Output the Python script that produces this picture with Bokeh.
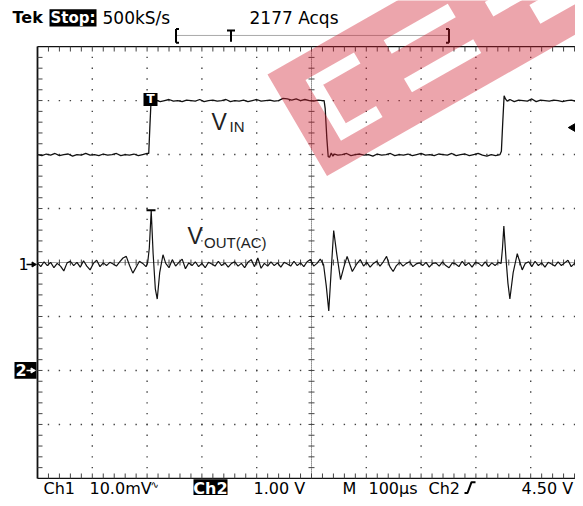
from bokeh.plotting import figure
from bokeh.models import Range1d
from bokeh.embed import file_html
from bokeh.resources import INLINE
from bokeh.core.properties import value

# ---------------- data (read from the scope screen) ----------------
# time in microseconds (100 us/div), Ch2 = V_IN in volts (1.00 V/div),
# Ch1 = V_OUT(AC) in millivolts (10.0 mV/div)
vin_t = (list(range(0, 201, 8)) + [203, 205, 207, 209, 212] + list(range(216, 521, 8))
         + [523, 525, 528, 530.5, 533, 536, 539, 542] + list(range(548, 845, 8))
         + [846.5, 849, 851.5, 854, 857] + list(range(862, 999, 8)) + [1000])
vin_v = ([4.00, 3.98, 4.01, 3.99, 4.02, 3.98, 4.00, 4.01, 3.97, 4.00, 3.99, 4.02, 3.99,
          4.00, 3.98, 4.01, 3.99, 4.00, 4.02, 3.98, 4.00, 3.99, 4.01, 3.98, 4.00, 4.02]
         + [4.02, 4.50, 4.95, 5.05, 4.99]
         + [5.01, 4.98, 5.00, 5.02, 4.99, 5.00, 4.98, 5.01, 5.00, 4.99, 5.02, 4.98, 5.00,
            5.01, 4.99, 5.00, 5.02, 4.98, 5.00, 4.99, 5.01, 4.98, 5.00, 5.02, 4.99, 5.00,
            5.01, 4.99, 5.00, 5.04, 5.03, 5.01, 5.03, 5.00, 5.02, 5.00, 4.99, 5.01, 5.00]
         + [5.00, 4.85, 4.30, 3.96, 3.95, 4.03, 3.97, 4.01]
         + [3.99, 4.00, 4.02, 3.98, 4.00, 4.01, 3.99, 4.00, 3.97, 4.01, 3.99, 4.00, 4.02,
            3.98, 4.00, 3.99, 4.01, 3.98, 4.00, 4.02, 3.99, 4.00, 3.98, 4.01, 4.00, 3.99,
            4.02, 3.98, 4.00, 4.01, 3.98, 4.00, 4.02, 3.99, 3.97, 4.00, 3.98, 4.00]
         + [4.06, 4.60, 5.09, 5.03, 4.99]
         + [5.02, 4.98, 5.01, 5.00, 4.99, 5.03, 4.98, 5.01, 5.00, 4.99, 5.01, 5.00, 4.98,
            5.00, 5.01, 4.99, 5.02, 5.00, 5.01])

vout_t = (list(range(0, 199, 6)) + [201, 204, 207.5, 211, 215, 218.5, 223, 229, 234]
          + list(range(240, 511, 6))
          + [516, 522, 527, 531.5, 536, 540.5, 546, 553, 559, 565, 570, 574.5, 582, 589]
          + list(range(595, 842, 6))
          + [846, 848.5, 851, 855, 858.5, 862, 868, 875.5, 884.5, 890, 896.5]
          + list(range(902, 999, 6)) + [1000])
vout_mv = ([0.3, -0.4, 0.5, -0.2, 0.4, -0.6, 0.2, -0.3, -1.2, 0.3, 0.6, -0.2, 0.4, -0.5,
            0.7, -0.3, -1.0, 0.2, 0.8, -0.4, 0.3, -0.2, 0.4, 0.1, -0.3, 0.5, 1.2, 1.5,
            -0.2, -1.6, -0.5, 0.6, 0.2, -0.4]
           + [0.3, 3.0, 10.0, 2.0, -4.5, -6.4, -1.5, 1.8, 0.2]
           + [-0.6, 0.9, -0.3, 0.4, 1.0, -0.8, 0.3, -0.2, 0.5, -0.4, 0.2, -0.6, 0.4, 0.1,
              -0.3, 0.6, -0.2, 0.3, -0.5, 0.2, 0.5, -0.3, 0.2, -0.6, 0.4, 0.9, -0.4, 1.2,
              -0.7, 0.2, -0.3, 0.5, -0.2, 0.3, -0.5, 0.4, 0.1, -0.3, 0.6, -0.2, 0.3, -0.4,
              0.5, 0.9, -0.3, 0.2]
           + [1.0, 0.0, -4.0, -8.6, -1.0, 6.3, 2.0, -2.8, -0.5, 1.5, 0.0, -1.3, 0.0, 0.9]
           + [-0.3, 0.4, -0.5, 0.2, 0.6, -0.3, 0.5, 1.5, -0.4, -1.3, -0.2, 0.4, -0.3, 0.2,
              0.5, -0.4, 0.1, 0.3, -0.2, 0.4, -0.5, 0.2, 0.3, -0.3, 0.5, -0.2, -0.6, 0.3,
              0.1, -0.4, 0.6, -0.2, 0.3, -0.5, 0.4, 0.2, -0.3, 0.5, -0.4, 0.3, -0.2, 0.4]
           + [0.2, 3.0, 7.1, 1.0, -3.5, -6.4, -1.5, 2.0, -1.0, 0.2, 0.5]
           + [-0.4, 0.6, -0.2, 0.3, -0.5, 0.4, 0.1, -0.3, 0.5, -0.2, 0.3, 0.8, -0.4, 0.2,
              0.5, -0.3, 0.4, 0.1])

trigger_level_v = 4.50

header_left = ["Tek", "Stop:", "500kS/s"]
header_acqs = "2177 Acqs"
footer = ["Ch1", "10.0mV", "Ch2", "1.00 V", "M", "100\u00b5s", "Ch2", "4.50 V"]

# ---------------- layout ----------------
W, H = 575, 498
KY = 0.985                       # slight vertical squeeze so the footer fits
X0, Y0, PX = 37.0, 266.0, 54.8   # graticule left edge, centre line (px), px per division
CH1_OFF = (Y0 - 268.0) / PX      # ch1 ground marker (divisions)
CH2_OFF = -2.0                   # ch2 ground marker (divisions)


def tx(xp):   # reference px -> time (us)
    return (xp - X0) / PX * 100.0


def ty(yp):   # reference px -> divisions
    return (Y0 - yp) / PX


YB, YT = ty(H / KY), ty(0)
p = figure(width=W, height=H, output_backend="svg", toolbar_location=None,
           x_range=Range1d(tx(0), tx(W)), y_range=Range1d(YB, YT),
           min_border=0, min_border_left=0, min_border_right=0,
           min_border_top=0, min_border_bottom=0)
p.outline_line_color = None
p.xaxis.visible = False
p.yaxis.visible = False
p.xgrid.visible = False
p.ygrid.visible = False
p.background_fill_color = "white"
p.border_fill_color = "white"

p.extra_y_ranges = {
    "ch1": Range1d((YB - CH1_OFF) * 10.0, (YT - CH1_OFF) * 10.0),
    "ch2": Range1d(YB - CH2_OFF, YT - CH2_OFF),
}

GRID = "#444444"
# dotted graticule lines
dx, dy = [], []
for yl in [-3, -2, -1, 1, 2, 3]:
    for m in range(1, 50):
        dx.append(m * 20.0)
        dy.append(float(yl))
for xl in [100, 200, 300, 400, 600, 700, 800, 900]:
    for j in range(-19, 20):
        dx.append(float(xl))
        dy.append(j * 0.2)
p.scatter(dx, dy, marker="square", size=1.4, fill_color=GRID, line_color=None)

# centre cross (dense dots + ticks)
p.line([0, 1000], [0, 0], line_color=GRID, line_width=1, line_dash="1 1")
p.line([500, 500], [-4, 4], line_color=GRID, line_width=1, line_dash="1 1")
tick_h = 3.0 / PX
tick_w = 3.0 / PX * 100
p.segment(x0=[m * 20.0 for m in range(1, 50)], x1=[m * 20.0 for m in range(1, 50)],
          y0=[-tick_h] * 49, y1=[tick_h] * 49, line_color=GRID, line_width=1)
p.segment(x0=[500 - tick_w] * 39, x1=[500 + tick_w] * 39,
          y0=[j * 0.2 for j in range(-19, 20)], y1=[j * 0.2 for j in range(-19, 20)],
          line_color=GRID, line_width=1)

# frame and edge ticks
p.line([0, 0], [-4, 4], line_color="#111111", line_width=1.8)
p.line([0, 1000], [4, 4], line_color="#111111", line_width=1.2)
p.line([0, 1000], [-4, -4], line_color="#111111", line_width=1.2)
et = 5.0 / PX
p.segment(x0=[m * 20.0 for m in range(1, 50)], x1=[m * 20.0 for m in range(1, 50)],
          y0=[4.0] * 49, y1=[4.0 - et] * 49, line_color=GRID, line_width=1)
p.segment(x0=[m * 20.0 for m in range(1, 50)], x1=[m * 20.0 for m in range(1, 50)],
          y0=[-4.0] * 49, y1=[-4.0 + et] * 49, line_color=GRID, line_width=1)
p.segment(x0=[0.0] * 39, x1=[5.0 / PX * 100] * 39,
          y0=[j * 0.2 for j in range(-19, 20)], y1=[j * 0.2 for j in range(-19, 20)],
          line_color=GRID, line_width=1)

# ---------------- waveforms ----------------
p.line(vin_t, vin_v, y_range_name="ch2", line_color="#111111", line_width=1.3)
p.line(vout_t, vout_mv, y_range_name="ch1", line_color="#111111", line_width=1.2)

LAB = value("Liberation Sans")
SCOPE = value("DejaVu Sans")

# trigger "T" markers
p.quad(left=[tx(143)], right=[tx(157)], top=[ty(94)], bottom=[ty(107)],
       fill_color="black", line_color=None)
p.text([tx(150)], [ty(100.5)], text=["T"], text_font=SCOPE, text_font_style="bold",
       text_font_size="12px", text_color="white", text_align="center",
       text_baseline="middle")
p.segment(x0=[tx(146)], x1=[tx(155)], y0=[ty(213)], y1=[ty(213)], line_color="black",
          line_width=2)

# labels on traces
p.text([tx(211)], [ty(123.5)], text=["V"], text_font=LAB, text_font_size="23px",
       text_color="#222222", text_baseline="middle")
p.text([tx(229)], [ty(127.5)], text=["IN"], text_font=LAB, text_font_size="15px",
       text_color="#222222", text_baseline="middle")
p.text([tx(187)], [ty(239.5)], text=["V"], text_font=LAB, text_font_size="23px",
       text_color="#222222", text_baseline="middle")
p.text([tx(203.5)], [ty(245.5)], text=["OUT(AC)"], text_font=LAB, text_font_size="15px",
       text_color="#222222", text_baseline="middle")

# channel ground markers
p.text([tx(18)], [CH1_OFF], text=["1"], text_font=SCOPE, text_font_size="16px",
       text_color="black", text_align="left", text_baseline="middle")
p.segment(x0=[tx(26)], x1=[tx(34)], y0=[CH1_OFF], y1=[CH1_OFF], line_color="black",
          line_width=1.3)
p.scatter([tx(33)], [CH1_OFF], marker="triangle", angle=-1.5708, size=5,
          fill_color="black", line_color="black")
p.quad(left=[tx(14)], right=[tx(36)], top=[CH2_OFF + 8.5 / PX], bottom=[CH2_OFF - 8.5 / PX],
       fill_color="black", line_color=None)
p.text([tx(15)], [CH2_OFF], text=["2"], text_font=SCOPE, text_font_size="16px",
       text_font_style="bold", text_color="white", text_align="left",
       text_baseline="middle")
p.segment(x0=[tx(26)], x1=[tx(33)], y0=[CH2_OFF], y1=[CH2_OFF], line_color="white",
          line_width=1.5)
p.scatter([tx(32)], [CH2_OFF], marker="triangle", angle=-1.5708, size=5,
          fill_color="white", line_color="white")

# trigger level arrow (right edge)
p.scatter([tx(573)], [trigger_level_v], y_range_name="ch2", marker="triangle",
          angle=1.5708, size=9, fill_color="black", line_color="black")

# ---------------- header ----------------
hy = ty(17.5)
p.text([tx(12)], [hy], text=[header_left[0]], text_font=SCOPE, text_font_style="bold",
       text_font_size="16px", text_color="black", text_baseline="middle")
p.quad(left=[tx(49)], right=[tx(96)], top=[ty(9)], bottom=[ty(26.5)],
       fill_color="black", line_color=None)
p.text([tx(72.5)], [hy], text=[header_left[1]], text_font=SCOPE, text_font_style="bold",
       text_font_size="15px", text_color="white", text_align="center",
       text_baseline="middle")
p.text([tx(102)], [hy], text=[header_left[2]], text_font=SCOPE,
       text_font_size="17px", text_color="black", text_baseline="middle")
p.text([tx(249)], [hy], text=[header_acqs], text_font=SCOPE,
       text_font_size="17px", text_color="black", text_baseline="middle")

# record-window bracket
p.line([tx(176), tx(449)], [ty(35.5), ty(35.5)], line_color="#555555", line_width=1,
       line_dash="1 1")
p.segment(x0=[tx(175.5), tx(175.5), tx(175.5), tx(230.5), tx(226.5), tx(448.5), tx(448.5), tx(448.5)],
          x1=[tx(175.5), tx(178.5), tx(178.5), tx(230.5), tx(234.5), tx(448.5), tx(445.5), tx(445.5)],
          y0=[ty(29), ty(29), ty(43), ty(30), ty(30.5), ty(29), ty(29), ty(43)],
          y1=[ty(43), ty(29), ty(43), ty(42), ty(30.5), ty(43), ty(29), ty(43)],
          line_color="black", line_width=2)

# ---------------- footer ----------------
fy = ty(495.6)
FS = "16px"
for xp, txt in [(43, footer[0]), (89, footer[1]), (253, footer[3]), (342, footer[4]),
                (368, footer[5]), (428, footer[6]), (521, footer[7])]:
    p.text([tx(xp)], [fy], text=[txt], text_font=SCOPE, text_font_size=FS,
           text_color="black", text_baseline="middle")
p.text([tx(150)], [ty(491)], text=["\u223f"], text_font=SCOPE, text_font_size="10px",
       text_color="black", text_baseline="middle")
p.quad(left=[tx(193)], right=[tx(227)], top=[ty(486)], bottom=[ty(502)],
       fill_color="black", line_color=None)
p.text([tx(210)], [fy], text=[footer[2]], text_font=SCOPE, text_font_style="bold",
       text_font_size=FS, text_color="white", text_align="center", text_baseline="middle")
p.line([tx(464), tx(467), tx(471), tx(475)], [ty(500), ty(500), ty(489), ty(489)],
       line_color="black", line_width=2)

# ---------------- watermark (translucent red logo, drawn on top) ----------------
AX, AY = 267.0, 75.0
UX, UY = 0.866, -0.5
NX, NY = 0.5, 0.866


def band_pt(s, w):
    return AX + s * UX + w * NX, AY + s * UY + w * NY


def band_rect(s0, s1, w0, w1):
    pts = [band_pt(s0, w0), band_pt(s1, w0), band_pt(s1, w1), band_pt(s0, w1)]
    return [tx(a) for a, b in pts], [ty(b) for a, b in pts]


outer = band_rect(0, 430, 0, 119)
holes = [band_rect(30, 86, 24, 37), band_rect(30, 43, 37, 95), band_rect(43, 78, 82, 95),
         band_rect(118, 192, 28, 44), band_rect(116, 196, 72, 88),
         band_rect(225, 262, 45, 62), band_rect(262, 330, 70, 92)]
p.multi_polygons(xs=[[[outer[0]] + [h[0] for h in holes]]],
                 ys=[[[outer[1]] + [h[1] for h in holes]]],
                 fill_color="#d01f30", fill_alpha=0.40, line_color=None)

open("out.html", "w").write(file_html(p, INLINE))
